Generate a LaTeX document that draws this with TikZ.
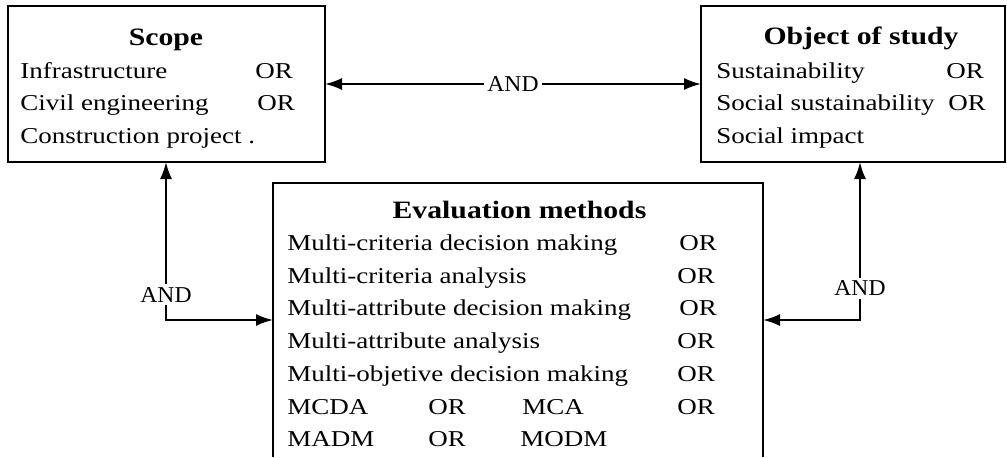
\documentclass[tikz,border=0pt]{standalone}
\usepackage{fontspec}
\setmainfont{Liberation Serif}[FakeStretch=1.19]
\newfontfamily\andfont{Liberation Serif}[FakeStretch=1.04]
\usetikzlibrary{arrows.meta}
\tikzset{
  box/.style={draw, line width=1pt, rectangle, inner sep=0pt, outer sep=0pt},
  frame/.style={line width=1pt},
  txt/.style={anchor=base west, inner sep=0pt, font=\fontsize{11.35}{13}\selectfont},
  ttl/.style={anchor=base, inner sep=0pt, font=\fontsize{12.5}{14}\selectfont\bfseries},
  link/.style={line width=1pt, {Latex[length=8.5pt,width=6pt]}-{Latex[length=8.5pt,width=6pt]}},
  andlbl/.style={fill=white, inner sep=1.5pt, font=\fontsize{11.35}{13}\selectfont\andfont}
}
\begin{document}
\begin{tikzpicture}[x=0.5pt, y=-0.5pt]
\useasboundingbox (0,0) rectangle (1007,457);

% boxes
\node[box, minimum width=158.5pt, minimum height=78pt] (scope) at (166.5,84) {};
\node[box, minimum width=152pt, minimum height=78pt] (object) at (853,84) {};
\node[inner sep=0pt, outer sep=0pt, minimum width=245pt, minimum height=137pt] (eval) at (518,320) {};
\draw[frame] (eval.south west) -- (eval.north west) -- (eval.north east) -- (eval.south east);

% Scope
\node[ttl] (scopeT) at (166,45) {Scope};
\node[txt] (s1) at (20,78) {Infrastructure};
\node[txt] (s1o) at (255,78) {OR};
\node[txt] (s2) at (20,110.5) {Civil engineering};
\node[txt] (s2o) at (257,110.5) {OR};
\node[txt] (s3) at (20,143) {Construction project .};

% Object of study
\node[ttl] (objT) at (861,44) {Object of study};
\node[txt] (o1) at (716,78) {Sustainability};
\node[txt] (o1o) at (946,78) {OR};
\node[txt] (o2) at (716,110.5) {Social sustainability};
\node[txt] (o2o) at (948,110.5) {OR};
\node[txt] (o3) at (716,143) {Social impact};

% Evaluation methods
\node[ttl] (evT) at (519.5,218) {Evaluation methods};
\node[txt] (e1) at (287,250) {Multi-criteria decision making};
\node[txt] (e1o) at (679,250) {OR};
\node[txt] (e2) at (287,283) {Multi-criteria analysis};
\node[txt] (e2o) at (677,283) {OR};
\node[txt] (e3) at (287,315.5) {Multi-attribute decision making};
\node[txt] (e3o) at (679,315.5) {OR};
\node[txt] (e4) at (287,348) {Multi-attribute analysis};
\node[txt] (e4o) at (677,348) {OR};
\node[txt] (e5) at (287,381) {Multi-objetive decision making};
\node[txt] (e5o) at (677,381) {OR};
\node[txt] (e6a) at (287,414) {MCDA};
\node[txt] (e6b) at (428,414) {OR};
\node[txt] (e6c) at (522,414) {MCA};
\node[txt] (e6o) at (677,414) {OR};
\node[txt] (e7a) at (287,446) {MADM};
\node[txt] (e7b) at (428,446) {OR};
\node[txt] (e7c) at (520,446) {MODM};

% connectors
\coordinate (lc) at (166,320);
\coordinate (rc) at (860,320);
\draw[link] (scope.east) -- node[andlbl] (andTop) {AND} (object.west);
\draw[link] (scope.south -| lc) |- node[andlbl, pos=0.42] (andLeft) {AND} (eval.west);
\draw[link] (object.south -| rc) |- node[andlbl, pos=0.40] (andRight) {AND} (eval.east);
\end{tikzpicture}
\end{document}
